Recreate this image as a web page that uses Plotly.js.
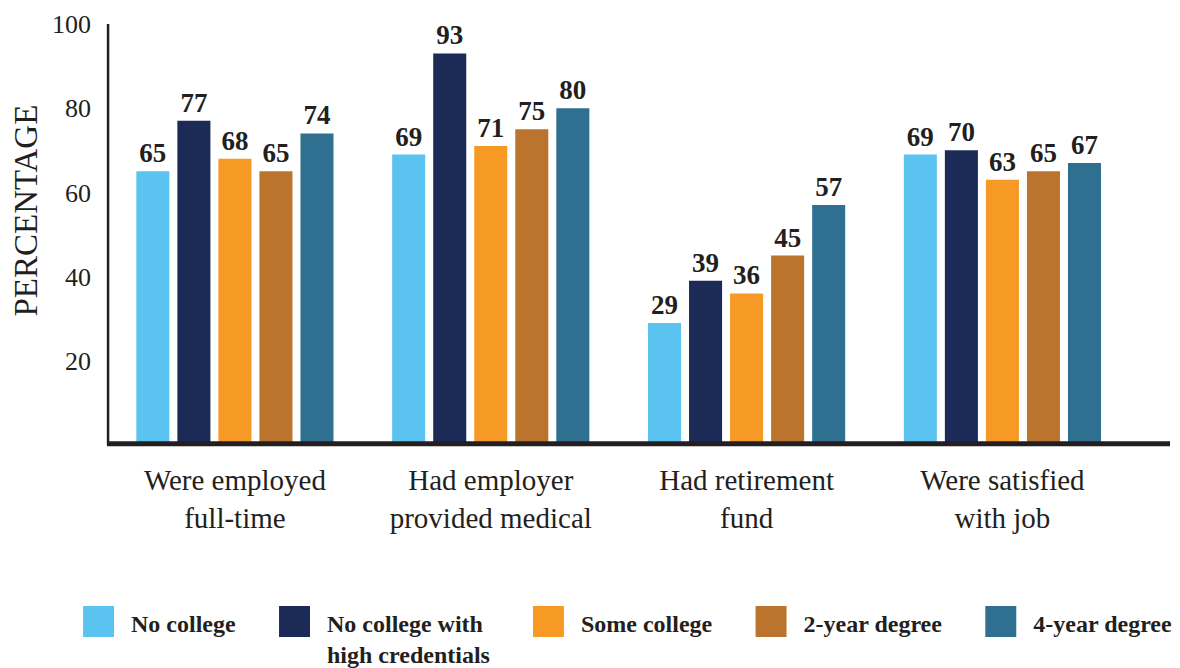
<!DOCTYPE html>
<html>
<head>
<meta charset="utf-8">
<script src="https://cdn.plot.ly/plotly-3.0.1.min.js"></script>
<style>html,body{margin:0;padding:0;background:#fff;}#chart{width:1180px;height:668px;}</style>
</head>
<body>
<div id="chart"></div>
<script>
const categories = ["Were employed<br>full-time", "Had employer<br>provided medical", "Had retirement<br>fund", "Were satisfied<br>with job"];
const seriesNames = ["No college", "No college with<br>high credentials", "Some college", "2-year degree", "4-year degree"];
const noCollege = [65, 69, 29, 69];
const noCollegeHighCred = [77, 93, 39, 70];
const someCollege = [68, 71, 36, 63];
const twoYear = [65, 75, 45, 65];
const fourYear = [74, 80, 57, 67];
const yTicks = [20, 40, 60, 80, 100];

const seriesValues = [noCollege, noCollegeHighCred, someCollege, twoYear, fourYear];
const colors = ["#5bc3ef", "#1b2a57", "#f69a25", "#bb742d", "#2f6f8f"];
const ink = "#231f20";
const serif = "\"Liberation Serif\", \"Times New Roman\", serif";

const traces = seriesValues.map((vals, i) => ({
  type: "bar",
  name: seriesNames[i],
  x: categories,
  y: vals,
  text: vals.map(String),
  textposition: "outside",
  textangle: 0,
  constraintext: "none",
  cliponaxis: false,
  textfont: {family: serif, size: 27, color: ink, weight: "bold"},
  marker: {color: colors[i], line: {width: 0}},
  hoverinfo: "none"
}));

const layout = {
  width: 1180, height: 668,
  margin: {l: 107, r: 10, t: 24, b: 222.5, pad: 0, autoexpand: false},
  paper_bgcolor: "#fff", plot_bgcolor: "#fff",
  barmode: "group",
  bargap: 0.198,
  bargroupgap: 0.195,
  showlegend: true,
  font: {family: serif, color: ink},
  xaxis: {
    type: "category",
    range: [-0.5, 3.655],
    showline: false, showgrid: false, zeroline: false,
    ticks: "", ticklabelstandoff: 15,
    tickfont: {family: serif, size: 29, color: ink}
  },
  yaxis: {
    range: [0, 100],
    tickvals: yTicks,
    showline: false, showgrid: false, zeroline: false,
    ticks: "", ticklabelstandoff: 15,
    tickfont: {family: serif, size: 26, color: ink}
  },
  shapes: [
    {type: "line", xref: "paper", yref: "paper", x0: 0, x1: 1, y0: 0.003, y1: 0.003, line: {color: ink, width: 5}, layer: "above"},
    {type: "line", xref: "paper", yref: "paper", x0: 0.001, x1: 0.001, y0: 0, y1: 1, line: {color: ink, width: 2.5}, layer: "above"}
  ],
  annotations: [
    {text: "PERCENTAGE", xref: "paper", yref: "paper", x: -0.0771, y: 0.557, xanchor: "center", yanchor: "middle", textangle: -90, showarrow: false, font: {family: serif, size: 33, color: ink}}
  ],
  legend: {
    orientation: "h",
    x: -0.0583, xanchor: "left",
    y: -0.369, yanchor: "top",
    itemwidth: 76,
    valign: "top",
    font: {family: serif, size: 24, color: ink, weight: "bold"},
    bgcolor: "rgba(0,0,0,0)", borderwidth: 0,
    itemclick: false, itemdoubleclick: false
  }
};

Plotly.newPlot("chart", traces, layout, {displayModeBar: false, staticPlot: true}).then(() => {
  document.querySelectorAll("#chart .legend g.traces").forEach(g => {
    const path = g.querySelector(".legendpoints path");
    const text = g.querySelector("text.legendtext");
    if (!path || !text) return;
    path.setAttribute("transform", "scale(2.58)");
    const pr = path.getBoundingClientRect();
    const tr = text.getBoundingClientRect();
    const dx = (tr.left - 17 - pr.width) - pr.left;
    path.setAttribute("transform", "translate(" + dx + ",-1) scale(2.58)");
  });
});
</script>
</body>
</html>
